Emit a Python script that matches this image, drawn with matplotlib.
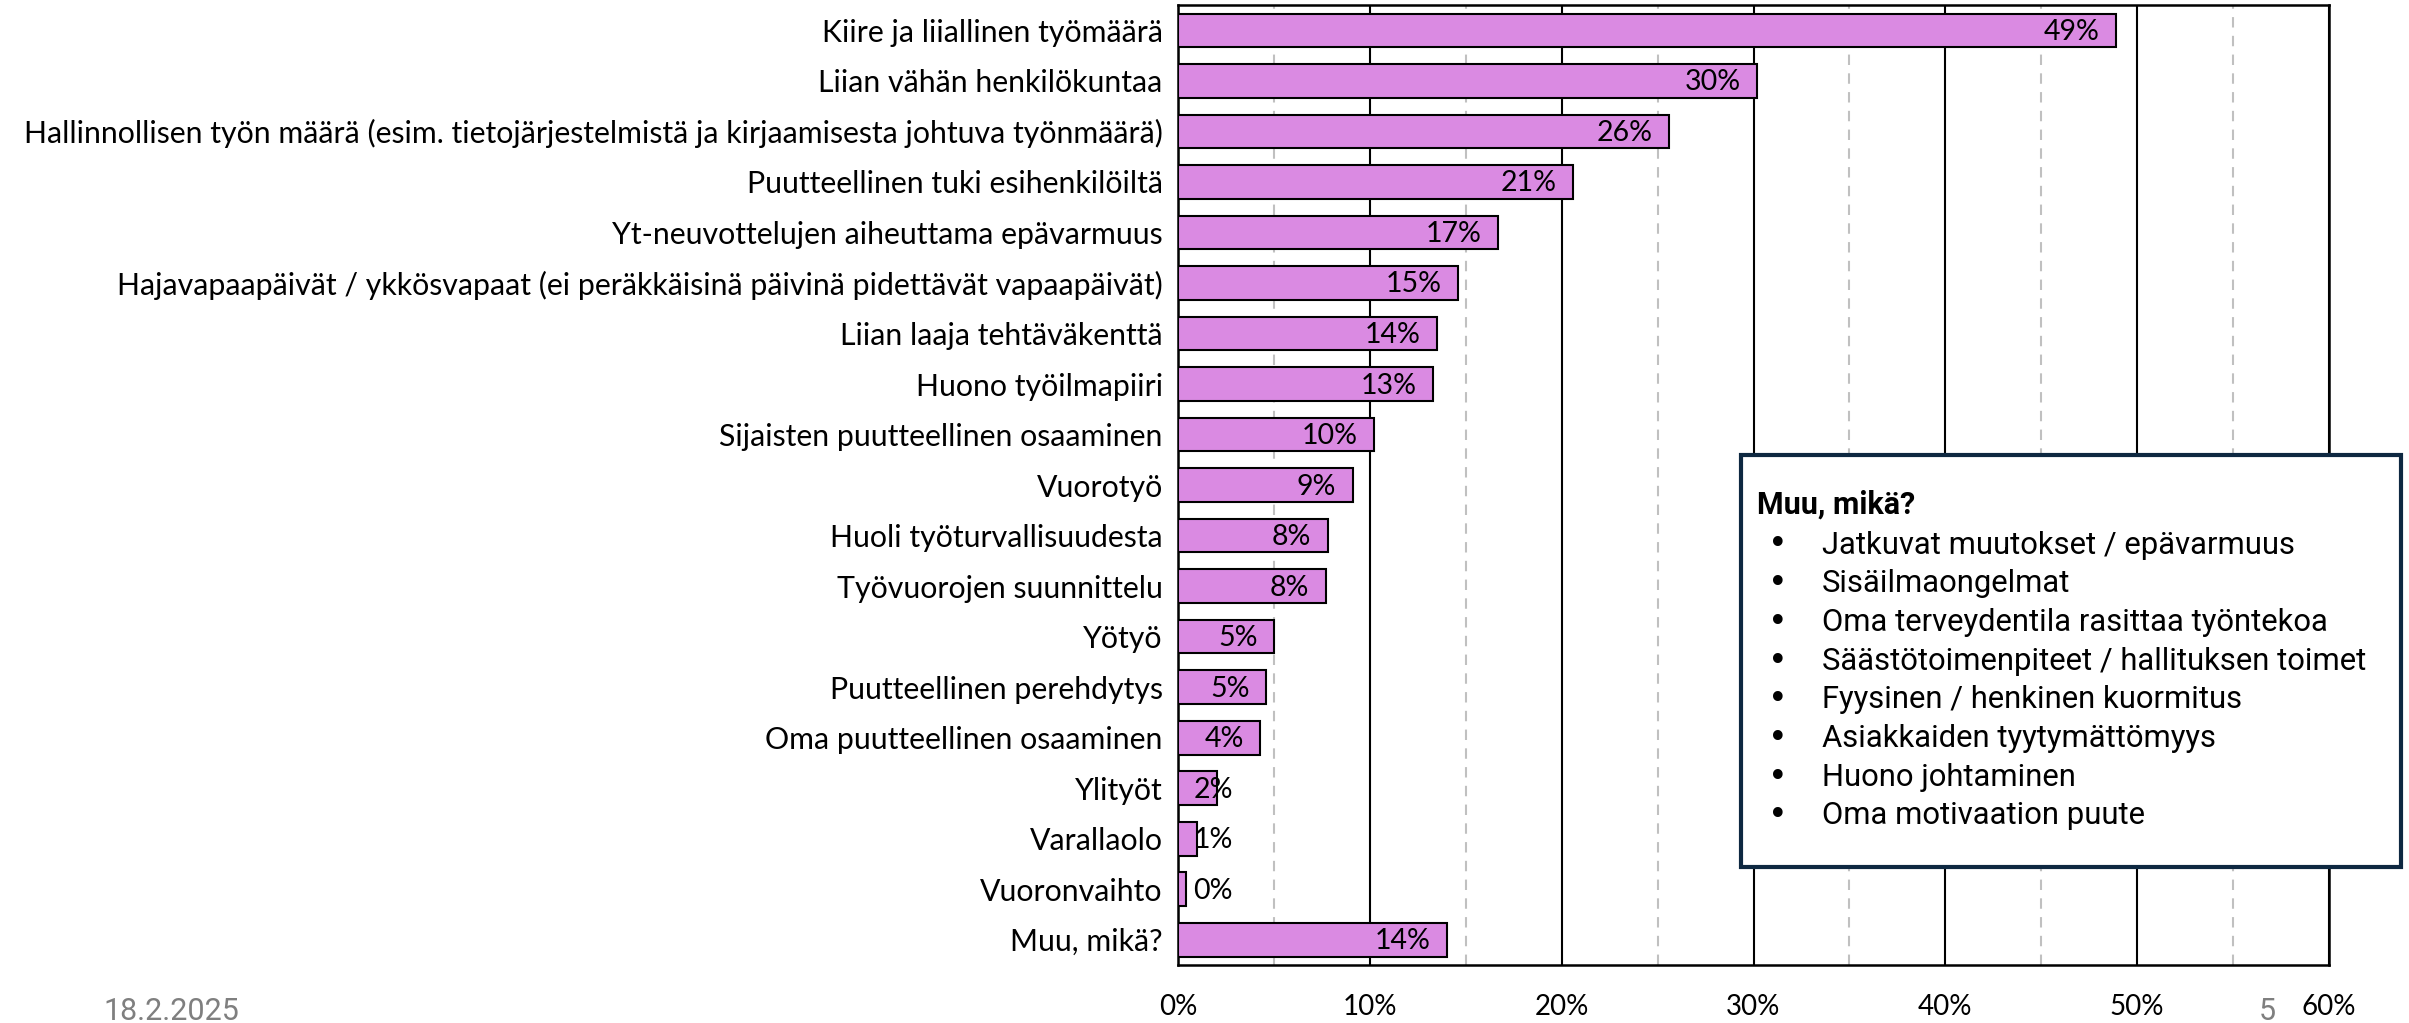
import matplotlib.pyplot as plt
from matplotlib.patches import Rectangle
from matplotlib.ticker import MultipleLocator, PercentFormatter

# Kuormitustekijät (osuus vastaajista)
kategoriat = [
    "Kiire ja liiallinen työmäärä",
    "Liian vähän henkilökuntaa",
    "Hallinnollisen työn määrä (esim. tietojärjestelmistä ja kirjaamisesta johtuva työnmäärä)",
    "Puutteellinen tuki esihenkilöiltä",
    "Yt-neuvottelujen aiheuttama epävarmuus",
    "Hajavapaapäivät / ykkösvapaat (ei peräkkäisinä päivinä pidettävät vapaapäivät)",
    "Liian laaja tehtäväkenttä",
    "Huono työilmapiiri",
    "Sijaisten puutteellinen osaaminen",
    "Vuorotyö",
    "Huoli työturvallisuudesta",
    "Työvuorojen suunnittelu",
    "Yötyö",
    "Puutteellinen perehdytys",
    "Oma puutteellinen osaaminen",
    "Ylityöt",
    "Varallaolo",
    "Vuoronvaihto",
    "Muu, mikä?",
]
osuudet = [0.489, 0.302, 0.256, 0.206, 0.167, 0.146, 0.135, 0.133, 0.102, 0.091,
           0.078, 0.077, 0.050, 0.046, 0.043, 0.0205, 0.010, 0.004, 0.140]

muu_otsikko = "Muu, mikä?"
muu_vastaukset = [
    "Jatkuvat muutokset / epävarmuus",
    "Sisäilmaongelmat",
    "Oma terveydentila rasittaa työntekoa",
    "Säästötoimenpiteet / hallituksen toimet",
    "Fyysinen / henkinen kuormitus",
    "Asiakkaiden tyytymättömyys",
    "Huono johtaminen",
    "Oma motivaation puute",
]

fontti = "Lato"

fig = plt.figure(figsize=(24.09, 10.23), dpi=100)
ax = fig.add_axes([0.489, 0.0567, 0.4778, 0.9383])

y = list(range(len(kategoriat)))
ax.barh(y, osuudet, height=0.667, color="#DA8AE2", edgecolor="black", linewidth=1.5, zorder=3)

# Arvot palkin sisäpäähän
for yi, v in zip(y, osuudet):
    ax.text(max(v - 0.0085, 0.0285), yi + 0.03, f"{v:.0%}", ha="right", va="center",
            fontsize=20.5, family=fontti, color="black", zorder=4)

ax.set_xlim(0, 0.6)
ax.set_ylim(len(kategoriat) - 0.5, -0.5)
ax.set_yticks(y)
ax.set_yticklabels(kategoriat, fontsize=21.8, family=fontti)
ax.tick_params(axis="y", length=0, pad=11)
ax.xaxis.set_major_locator(MultipleLocator(0.1))
ax.xaxis.set_minor_locator(MultipleLocator(0.05))
ax.xaxis.set_major_formatter(PercentFormatter(1.0, decimals=0))
ax.tick_params(axis="x", which="both", length=0, pad=21, labelsize=20)
for lab in ax.get_xticklabels():
    lab.set_family(fontti)
ax.grid(axis="x", which="major", color="black", linewidth=1.5, zorder=1)
ax.grid(axis="x", which="minor", color="#c0c0c0", linestyle=(0, (5, 4)), linewidth=1.5, zorder=1)
for s in ax.spines.values():
    s.set_color("black")
    s.set_linewidth(1.8)

# Tekstilaatikko "Muu, mikä?"
fig.patches.append(Rectangle((1741 / 2409, 1 - 867 / 1023), 660 / 2409, 412 / 1023,
                             transform=fig.transFigure, facecolor="white",
                             edgecolor="#0E2841", linewidth=3, zorder=5))
fig.text(1757 / 2409, 1 - 505 / 1023, muu_otsikko, fontsize=22, family="Roboto",
         weight="bold", va="center", zorder=6)
for i, rivi in enumerate(muu_vastaukset):
    yy = 1 - (545 + i * 38.7) / 1023
    fig.text(1768 / 2409, yy, "•", fontsize=24, family="DejaVu Sans", va="center", zorder=6)
    fig.text(1822 / 2409, yy, rivi, fontsize=22.3, family="Roboto", va="center", zorder=6)

# Dian alatunniste
fig.text(103 / 2409, 1 - 1011 / 1023, "18.2.2025", fontsize=22, family="Roboto",
         color="#7f7f7f", va="center")
fig.text(2259 / 2409, 1 - 1011 / 1023, "5", fontsize=22, family="Roboto",
         color="#7f7f7f", va="center")

fig.savefig("out.png", dpi=100)
